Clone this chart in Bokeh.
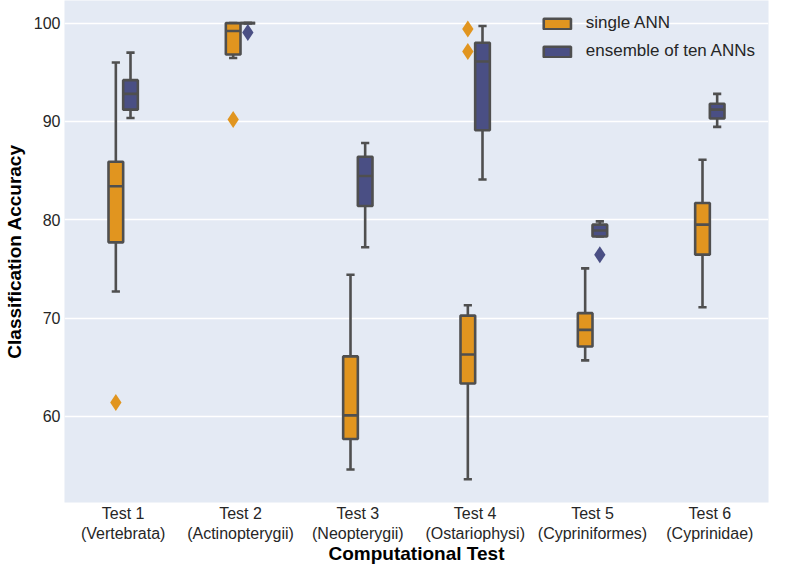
from bokeh.plotting import figure
from bokeh.models import Range1d, FixedTicker, ColumnDataSource, Legend, LegendItem
from bokeh.transform import dodge
from bokeh.embed import file_html
from bokeh.resources import INLINE

tests = ["Test 1\n(Vertebrata)", "Test 2\n(Actinopterygii)", "Test 3\n(Neopterygii)",
         "Test 4\n(Ostariophysi)", "Test 5\n(Cypriniformes)", "Test 6\n(Cyprinidae)"]
xpos = [0, 1, 2, 3, 4, 5]

# single ANN box statistics
single_lo = [72.7, 96.45, 54.6, 53.6, 65.7, 71.1]
single_q1 = [77.7, 96.8, 57.7, 63.35, 67.1, 76.45]
single_med = [83.4, 99.2, 60.1, 66.3, 68.8, 79.5]
single_q3 = [85.9, 100.0, 66.1, 70.25, 70.5, 81.7]
single_hi = [96.0, 100.0, 74.4, 71.3, 75.05, 86.1]
single_out_x = [0, 1, 3, 3]
single_out_y = [61.4, 90.2, 99.4, 97.1]

# ensemble of ten ANNs box statistics
ens_lo = [90.35, 100.0, 77.2, 84.1, 78.3, 89.45]
ens_q1 = [91.2, 100.0, 81.4, 89.1, 78.3, 90.3]
ens_med = [92.8, 100.0, 84.45, 96.1, 78.9, 91.2]
ens_q3 = [94.2, 100.0, 86.4, 98.0, 79.5, 91.8]
ens_hi = [97.0, 100.0, 87.8, 99.7, 79.83, 92.8]
ens_out_x = [1, 4]
ens_out_y = [99.04, 76.45]

ORANGE = "#E1951F"
BLUE = "#4A4F84"
EDGE = "#4F4F4F"
FONT = "Liberation Sans"

p = figure(width=770, height=566, output_backend="svg", toolbar_location=None,
           x_range=Range1d(-0.5, 5.5), y_range=Range1d(51.24, 102.3),
           min_border_left=53, min_border_right=2, min_border_top=0, min_border_bottom=0)

p.background_fill_color = "#E4EAF4"
p.border_fill_color = "white"
p.outline_line_color = None
p.xgrid.grid_line_color = None
p.ygrid.grid_line_color = "white"
p.ygrid.grid_line_width = 1.6
p.yaxis.ticker = FixedTicker(ticks=[60, 70, 80, 90, 100])
p.xaxis.ticker = FixedTicker(ticks=xpos)
p.xaxis.major_label_overrides = {i: t for i, t in zip(xpos, tests)}
for ax in (p.xaxis, p.yaxis):
    ax.axis_line_color = None
    ax.major_tick_line_color = None
    ax.minor_tick_line_color = None
    ax.major_tick_in = 0
    ax.major_tick_out = 0
    ax.major_label_text_font = FONT
    ax.major_label_text_font_size = "16px"
    ax.major_label_text_color = "#262626"
    ax.axis_label_text_font = FONT
    ax.axis_label_text_font_size = "19px"
    ax.axis_label_text_font_style = "bold"
    ax.axis_label_text_color = "black"
p.xaxis.major_label_standoff = 2
p.yaxis.major_label_standoff = 4
p.xaxis.axis_label = "Computational Test"
p.yaxis.axis_label = "Classification Accuracy"
p.xaxis.axis_label_standoff = -2
p.xaxis.axis_label_text_line_height = 0.9
p.yaxis.axis_label_standoff = 6

BW = 0.125
CAP = 0.07


def draw(off, lo, q1, med, q3, hi, color, ox, oy):
    src = ColumnDataSource(dict(x=xpos, lo=lo, q1=q1, med=med, q3=q3, hi=hi))
    xc = dodge("x", off, range=p.x_range)
    p.segment(x0=xc, x1=xc, y0="q3", y1="hi", source=src, line_color=EDGE, line_width=2.6)
    p.segment(x0=xc, x1=xc, y0="q1", y1="lo", source=src, line_color=EDGE, line_width=2.6)
    p.segment(x0=dodge("x", off - CAP / 2, range=p.x_range), x1=dodge("x", off + CAP / 2, range=p.x_range),
              y0="hi", y1="hi", source=src, line_color=EDGE, line_width=2.6)
    p.segment(x0=dodge("x", off - CAP / 2, range=p.x_range), x1=dodge("x", off + CAP / 2, range=p.x_range),
              y0="lo", y1="lo", source=src, line_color=EDGE, line_width=2.6)
    r = p.vbar(x=xc, width=BW, bottom="q1", top="q3", source=src, fill_color=color,
               line_color=EDGE, line_width=2.6)
    p.segment(x0=dodge("x", off - BW / 2, range=p.x_range), x1=dodge("x", off + BW / 2, range=p.x_range),
              y0="med", y1="med", source=src, line_color=EDGE, line_width=2.6)
    osrc = ColumnDataSource(dict(x=ox, y=oy))
    p.scatter(x=dodge("x", off, range=p.x_range), y="y", source=osrc, marker="diamond",
              size=17, fill_color=color, line_color=color, line_width=0)
    return r


r1 = draw(-0.0625, single_lo, single_q1, single_med, single_q3, single_hi, ORANGE, single_out_x, single_out_y)
r2 = draw(0.0625, ens_lo, ens_q1, ens_med, ens_q3, ens_hi, BLUE, ens_out_x, ens_out_y)

legend = Legend(items=[LegendItem(label="single ANN", renderers=[r1]),
                       LegendItem(label="ensemble of ten ANNs", renderers=[r2])],
                location="top_right", background_fill_alpha=0, border_line_alpha=0,
                label_text_font=FONT, label_text_font_size="17px", label_text_color="#262626",
                glyph_width=34, glyph_height=13, spacing=8, padding=5, margin=8, label_standoff=12)
p.add_layout(legend)

open("out.html", "w").write(file_html(p, INLINE))
